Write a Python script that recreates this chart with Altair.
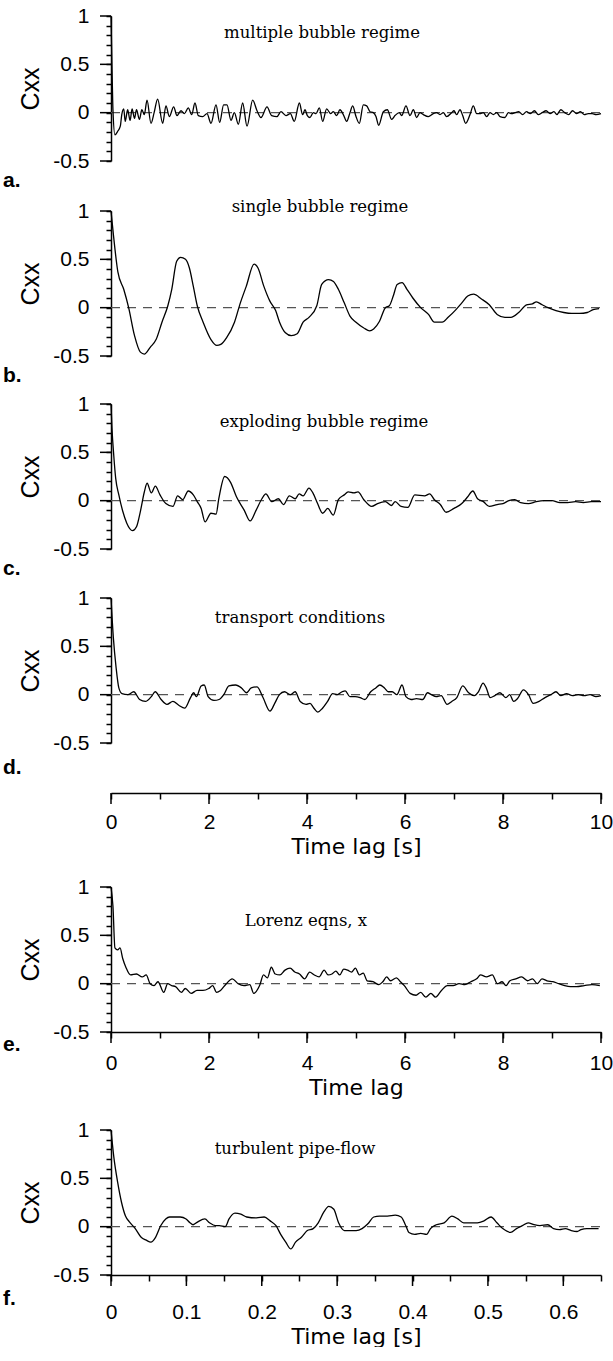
import altair as alt
import pandas as pd

# ---------------- data (time lag, Cxx) ----------------
A_POINTS = [(0, 1.0), (0.02, 0.48), (0.04, 0.03), (0.08, -0.23), (0.14, -0.19), (0.19, -0.14),
            (0.22, -0.02), (0.26, 0.04), (0.29, -0.09), (0.34, 0.03), (0.39, -0.08), (0.43, 0.04),
            (0.48, -0.06), (0.52, 0.03), (0.58, -0.07), (0.63, 0.03), (0.68, -0.02), (0.735, 0.13),
            (0.816, -0.11), (0.88, 0.0), (0.952, 0.14), (1.054, -0.11), (1.122, 0.07), (1.19, -0.04),
            (1.279, 0.06), (1.347, -0.03), (1.429, 0.02), (1.497, -0.01), (1.578, 0.05), (1.646, -0.02),
            (1.714, 0.1), (1.782, -0.03), (1.871, -0.04), (1.959, -0.01), (2.041, -0.11), (2.143, 0.08),
            (2.218, -0.1), (2.299, 0.08), (2.367, 0.08), (2.449, -0.08), (2.517, 0.0), (2.599, -0.12),
            (2.687, 0.1), (2.776, -0.14), (2.891, 0.13), (2.98, 0.02), (3.061, -0.05), (3.184, 0.06),
            (3.279, -0.03), (3.388, -0.04), (3.469, 0.01), (3.571, -0.03), (3.66, -0.01), (3.741, -0.09),
            (3.844, 0.1), (3.911, -0.02), (3.959, 0.03), (4.007, -0.03), (4.061, -0.05), (4.129, 0.0),
            (4.184, -0.01), (4.252, 0.05), (4.32, -0.09), (4.401, 0.04), (4.483, -0.01), (4.537, 0.01),
            (4.605, -0.03), (4.673, 0.03), (4.741, -0.02), (4.81, -0.09), (4.877, 0.0), (4.932, 0.07),
            (5.0, -0.04), (5.068, -0.11), (5.15, 0.08), (5.218, 0.07), (5.286, 0.01), (5.354, 0.0),
            (5.408, -0.04), (5.463, -0.13), (5.558, 0.01), (5.639, 0.03), (5.728, -0.07), (5.796, -0.03),
            (5.884, 0.0), (5.932, -0.03), (6.02, 0.07), (6.102, -0.03), (6.17, 0.03), (6.238, -0.05),
            (6.306, 0.0), (6.374, -0.02), (6.476, -0.04), (6.578, -0.01), (6.646, 0.0), (6.714, -0.02),
            (6.782, 0.0), (6.85, -0.04), (6.952, 0.0), (7.0, 0.02), (7.054, -0.02), (7.122, 0.03),
            (7.177, -0.03), (7.238, -0.11), (7.327, -0.02), (7.394, 0.07), (7.463, -0.01), (7.531, -0.01),
            (7.599, 0.0), (7.667, -0.04), (7.735, 0.0), (7.803, -0.02), (7.871, 0.0), (7.939, -0.04),
            (8.041, -0.05), (8.109, 0.0), (8.177, -0.01), (8.245, 0.0), (8.32, 0.01), (8.4, -0.02),
            (8.48, 0.01), (8.56, -0.01), (8.64, 0.02), (8.72, -0.02), (8.8, 0.0), (8.88, 0.02),
            (8.96, -0.01), (9.04, 0.01), (9.1, -0.02), (9.18, 0.03), (9.26, 0.0), (9.34, -0.02),
            (9.42, 0.02), (9.5, -0.01), (9.58, 0.01), (9.66, -0.02), (9.74, -0.01), (9.82, -0.01),
            (9.9, -0.02), (10.0, -0.01)]

B_POINTS = [(0, 1.0), (0.05, 0.75), (0.14, 0.37), (0.26, 0.19), (0.36, 0.0), (0.48, -0.29), (0.6, -0.46),
            (0.68, -0.48), (0.8, -0.41), (0.92, -0.33), (1.04, -0.15), (1.16, 0.02), (1.24, 0.19),
            (1.34, 0.48), (1.42, 0.52), (1.52, 0.5), (1.6, 0.41), (1.68, 0.22), (1.76, 0.02), (1.88, -0.15),
            (2.04, -0.33), (2.16, -0.39), (2.24, -0.38), (2.36, -0.31), (2.52, -0.15), (2.64, 0.05),
            (2.76, 0.22), (2.92, 0.45), (3.0, 0.41), (3.12, 0.22), (3.24, 0.07), (3.36, -0.03),
            (3.44, -0.15), (3.56, -0.26), (3.68, -0.29), (3.8, -0.27), (3.92, -0.15), (4.04, -0.1),
            (4.2, 0.02), (4.3, 0.24), (4.44, 0.29), (4.54, 0.27), (4.64, 0.19), (4.76, 0.05), (4.88, -0.09),
            (5.0, -0.15), (5.16, -0.21), (5.28, -0.24), (5.36, -0.22), (5.48, -0.14), (5.6, 0.0),
            (5.68, 0.02), (5.76, 0.12), (5.84, 0.24), (5.94, 0.26), (6.04, 0.19), (6.16, 0.1), (6.32, 0.0),
            (6.48, -0.07), (6.6, -0.15), (6.76, -0.15), (6.88, -0.1), (7.04, -0.02), (7.16, 0.05),
            (7.28, 0.12), (7.4, 0.14), (7.56, 0.09), (7.72, 0.03), (7.88, -0.07), (8.04, -0.1),
            (8.16, -0.1), (8.32, -0.05), (8.48, 0.03), (8.6, 0.04), (8.68, 0.06), (8.8, 0.03), (8.92, 0.0),
            (9.08, -0.03), (9.24, -0.05), (9.4, -0.06), (9.56, -0.06), (9.72, -0.05), (9.84, -0.02),
            (9.96, -0.01)]

C_POINTS = [(0, 1.0), (0.02, 0.75), (0.056, 0.47), (0.096, 0.23), (0.16, 0.06), (0.24, -0.11),
            (0.32, -0.23), (0.44, -0.31), (0.52, -0.27), (0.6, -0.11), (0.68, 0.09), (0.736, 0.18),
            (0.824, 0.08), (0.904, 0.15), (1.0, 0.06), (1.12, -0.03), (1.264, -0.06), (1.36, 0.05),
            (1.464, 0.01), (1.576, 0.1), (1.68, 0.06), (1.76, -0.01), (1.84, -0.08), (1.92, -0.22),
            (2.04, -0.13), (2.144, -0.14), (2.2, 0.02), (2.32, 0.25), (2.44, 0.19), (2.56, 0.04),
            (2.72, -0.1), (2.84, -0.21), (2.96, -0.1), (3.08, 0.02), (3.16, 0.07), (3.28, -0.01),
            (3.416, 0.02), (3.52, -0.04), (3.64, 0.05), (3.76, 0.02), (3.84, 0.07), (3.92, 0.05),
            (4.04, 0.13), (4.12, 0.08), (4.216, -0.03), (4.32, -0.13), (4.424, -0.08), (4.536, -0.15),
            (4.64, 0.01), (4.76, 0.06), (4.84, 0.09), (4.96, 0.08), (5.04, 0.09), (5.16, 0.01),
            (5.32, -0.06), (5.44, -0.03), (5.6, -0.01), (5.72, -0.05), (5.8, -0.01), (5.92, -0.06),
            (6.056, -0.07), (6.2, 0.06), (6.4, 0.05), (6.504, 0.07), (6.6, 0.01), (6.72, -0.04),
            (6.84, -0.12), (7.0, -0.08), (7.16, -0.03), (7.28, 0.04), (7.384, 0.1), (7.48, 0.02),
            (7.6, -0.01), (7.72, -0.06), (7.88, -0.04), (8.0, -0.03), (8.12, 0.0), (8.24, 0.01),
            (8.36, -0.02), (8.52, -0.03), (8.68, -0.01), (8.84, 0.0), (9.0, 0.0), (9.16, -0.02),
            (9.32, -0.02), (9.48, -0.01), (9.64, -0.02), (9.8, -0.01), (10.0, -0.01)]

D_POINTS = [(0, 1.0), (0.048, 0.59), (0.104, 0.28), (0.16, 0.07), (0.224, 0.01), (0.344, 0.0),
            (0.464, 0.03), (0.584, -0.05), (0.703, -0.07), (0.823, -0.02), (0.903, 0.03), (1.023, -0.05),
            (1.143, -0.1), (1.263, -0.07), (1.383, -0.11), (1.503, -0.14), (1.623, -0.03), (1.687, 0.02),
            (1.743, -0.02), (1.839, 0.09), (1.902, 0.1), (1.982, -0.02), (2.102, -0.06), (2.206, -0.05),
            (2.302, 0.0), (2.406, 0.09), (2.542, 0.1), (2.662, 0.07), (2.766, 0.02), (2.862, 0.07),
            (2.982, 0.08), (3.102, -0.03), (3.245, -0.17), (3.341, -0.09), (3.437, 0.0), (3.541, 0.03),
            (3.661, 0.0), (3.757, 0.03), (3.861, -0.07), (3.981, -0.1), (4.061, -0.09), (4.141, -0.14),
            (4.221, -0.18), (4.317, -0.14), (4.42, -0.07), (4.524, 0.01), (4.62, 0.0), (4.716, 0.03),
            (4.78, 0.04), (4.876, -0.02), (4.98, -0.02), (5.084, -0.03), (5.18, -0.05), (5.3, 0.03),
            (5.404, 0.07), (5.484, 0.1), (5.58, 0.07), (5.659, 0.03), (5.739, 0.03), (5.835, 0.0),
            (5.939, 0.1), (6.019, -0.02), (6.123, -0.05), (6.235, -0.04), (6.363, -0.05), (6.459, 0.02),
            (6.539, 0.0), (6.635, -0.02), (6.739, -0.01), (6.859, -0.1), (6.954, -0.07), (7.058, -0.03),
            (7.178, 0.09), (7.298, 0.02), (7.418, -0.01), (7.498, 0.03), (7.594, 0.12), (7.658, 0.07),
            (7.738, -0.03), (7.834, -0.01), (7.938, 0.02), (8.058, -0.03), (8.137, 0.0), (8.217, -0.07),
            (8.297, -0.04), (8.417, 0.05), (8.521, 0.0), (8.617, -0.09), (8.737, -0.07), (8.857, -0.03),
            (8.977, 0.0), (9.081, 0.03), (9.177, -0.01), (9.297, 0.01), (9.417, -0.01), (9.536, 0.0),
            (9.656, -0.01), (9.776, 0.0), (9.896, -0.02), (10.0, -0.01)]

E_POINTS = [(0, 1.0), (0.04, 0.8), (0.08, 0.37), (0.136, 0.35), (0.184, 0.37), (0.239, 0.26),
            (0.303, 0.17), (0.399, 0.09), (0.519, 0.1), (0.638, 0.07), (0.718, 0.09), (0.798, 0.0),
            (0.878, -0.02), (0.958, 0.02), (1.077, -0.09), (1.157, 0.0), (1.237, -0.02), (1.317, -0.03),
            (1.437, -0.09), (1.516, -0.05), (1.636, -0.1), (1.756, -0.07), (1.876, -0.07), (1.995, -0.05),
            (2.075, -0.02), (2.155, -0.09), (2.235, -0.07), (2.354, 0.0), (2.474, 0.05), (2.594, 0.0),
            (2.714, -0.02), (2.833, -0.01), (2.913, -0.1), (3.033, -0.02), (3.113, 0.09), (3.192, 0.06),
            (3.272, 0.17), (3.352, 0.1), (3.448, 0.09), (3.551, 0.14), (3.655, 0.16), (3.751, 0.12),
            (3.847, 0.1), (3.951, 0.05), (4.054, 0.12), (4.15, 0.09), (4.246, 0.07), (4.35, 0.14),
            (4.429, 0.09), (4.509, 0.1), (4.589, 0.13), (4.669, 0.09), (4.749, 0.15), (4.828, 0.14),
            (4.908, 0.12), (4.988, 0.16), (5.068, 0.09), (5.148, 0.11), (5.227, 0.03), (5.347, 0.02),
            (5.467, -0.01), (5.547, 0.02), (5.626, 0.07), (5.706, 0.03), (5.826, 0.06), (5.906, 0.02),
            (5.986, -0.02), (6.105, -0.1), (6.225, -0.12), (6.321, -0.09), (6.425, -0.14), (6.528, -0.1),
            (6.624, -0.14), (6.744, -0.07), (6.864, -0.02), (6.983, -0.02), (7.103, 0.0), (7.223, -0.01),
            (7.343, 0.02), (7.462, 0.05), (7.542, 0.09), (7.662, 0.07), (7.782, 0.09), (7.885, 0.0),
            (7.981, 0.02), (8.061, -0.02), (8.141, 0.03), (8.26, 0.05), (8.38, 0.07), (8.5, 0.03),
            (8.603, 0.05), (8.699, 0.0), (8.795, 0.05), (8.898, 0.03), (9.018, 0.02), (9.138, 0.0),
            (9.258, -0.02), (9.377, -0.03), (9.497, -0.03), (9.657, -0.02), (9.816, -0.01), (9.976, -0.02)]

F_POINTS = [(0, 1.0), (0.0036, 0.73), (0.0088, 0.46), (0.014, 0.25), (0.0192, 0.11), (0.0244, 0.05),
            (0.0322, -0.02), (0.04, -0.11), (0.0467, -0.14), (0.0529, -0.16), (0.0591, -0.11),
            (0.0659, 0.01), (0.0726, 0.08), (0.0778, 0.1), (0.084, 0.1), (0.0918, 0.1), (0.0996, 0.08),
            (0.1048, 0.04), (0.1089, 0.02), (0.1151, 0.05), (0.1245, 0.08), (0.1307, 0.04), (0.1385, 0.01),
            (0.1437, 0.01), (0.1515, 0.0), (0.1566, 0.08), (0.1644, 0.14), (0.1722, 0.13), (0.18, 0.1),
            (0.1929, 0.09), (0.2033, 0.1), (0.2111, 0.06), (0.2189, 0.01), (0.2251, -0.08), (0.2318, -0.16),
            (0.2386, -0.23), (0.2448, -0.16), (0.2526, -0.11), (0.2604, -0.04), (0.2682, -0.02),
            (0.2749, 0.04), (0.2822, 0.15), (0.2889, 0.21), (0.2956, 0.18), (0.3019, 0.04), (0.3096, -0.04),
            (0.3174, -0.04), (0.3252, -0.04), (0.333, -0.02), (0.3408, 0.03), (0.3485, 0.1), (0.3563, 0.11),
            (0.3667, 0.11), (0.3771, 0.12), (0.3849, 0.1), (0.3911, 0.01), (0.3952, -0.06), (0.403, -0.08),
            (0.4108, -0.07), (0.4186, -0.08), (0.4238, -0.02), (0.4315, 0.02), (0.4419, 0.04),
            (0.4523, 0.11), (0.4601, 0.08), (0.4678, 0.04), (0.4782, 0.04), (0.486, 0.04), (0.4948, 0.06),
            (0.5041, 0.1), (0.5119, 0.04), (0.5197, -0.02), (0.5301, -0.06), (0.5379, -0.02),
            (0.5456, 0.01), (0.5534, 0.04), (0.5612, 0.02), (0.569, 0.01), (0.5794, 0.02), (0.5871, -0.02),
            (0.5949, -0.03), (0.6027, -0.02), (0.6105, -0.04), (0.6183, -0.05), (0.6235, -0.03),
            (0.6312, -0.02), (0.639, -0.02), (0.6468, -0.02)]

TITLES = ["multiple bubble regime", "single bubble regime", "exploding bubble regime",
          "transport conditions", "Lorenz eqns, x", "turbulent pipe-flow"]
TAGS = ["a.", "b.", "c.", "d.", "e.", "f."]
Y_TICKS = [round(-0.5 + 0.1 * i, 1) for i in range(16)]
Y_MAJORS = [-0.5, 0, 0.5, 1]
X_TICKS_S = list(range(11))
X_MAJORS_S = [0, 2, 4, 6, 8, 10]
X_TICKS_F = [round(0.05 * i, 2) for i in range(14)]
X_MAJORS_F = [0, 0.1, 0.2, 0.3, 0.4, 0.5, 0.6]
Y_TITLE = "Cxx"
X_TITLES = ["Time lag [s]", "Time lag", "Time lag [s]"]

SANS = "Liberation Sans"
TITLE_SANS = "DejaVu Sans"
SERIF = "DejaVu Serif"
W = 490
H = 145


def y_axis():
    return alt.Axis(values=Y_TICKS, title=Y_TITLE, grid=False,
                    labelExpr="indexof([-0.5, 0, 0.5, 1], datum.value) >= 0 ? '' + datum.value : ''",
                    tickSize=5,
                    labelFont=SANS, labelFontSize=21, labelColor="black", labelPadding=17,
                    labelOverlap=False, labelFlush=False,
                    titleFont=SANS, titleFontSize=25, titleFontWeight="normal", titleColor="black",
                    titlePadding=9,
                    domainColor="black", domainWidth=1.5, tickColor="black", tickWidth=1.5)


def x_axis(values, majors, title, offset, pad):
    arr = "[" + ", ".join(str(m) for m in majors) + "]"
    return alt.Axis(values=values, title=title, grid=False, offset=offset,
                    labelExpr=f"indexof({arr}, datum.value) >= 0 ? '' + datum.value : ''",
                    tickSize=6,
                    labelFont=SANS, labelFontSize=21, labelColor="black", labelPadding=pad,
                    labelOverlap=False, labelFlush=False,
                    titleFont=TITLE_SANS, titleFontSize=22, titleFontWeight="normal", titleColor="black",
                    titlePadding=4,
                    domainColor="black", domainWidth=1.5, tickColor="black", tickWidth=1.5)


def panel(points, xmax, title, tag, ann_x, ann_y, tag_y, xaxis=None, xmajors=None, offset=0,
          anchor=False):
    df = pd.DataFrame(points, columns=["t", "c"])
    xs = alt.Scale(domain=[0, xmax], nice=False, zero=False)
    ys = alt.Scale(domain=[-0.5, 1], nice=False, zero=False)
    X = lambda f: alt.X(f, scale=xs, axis=xaxis)
    Y = lambda f: alt.Y(f, scale=ys, axis=y_axis())
    line = alt.Chart(df).mark_line(color="black", strokeWidth=1.3, interpolate="monotone").encode(
        x=X("t:Q"), y=Y("c:Q"))
    zdf = pd.DataFrame({"t": [0], "t2": [xmax], "c": [0]})
    zero = alt.Chart(zdf).mark_rule(color="#555555", strokeDash=[9, 7], strokeWidth=1.2).encode(
        x=X("t:Q"), x2="t2:Q", y=Y("c:Q"))
    ymaj = alt.Chart(pd.DataFrame({"c": Y_MAJORS})).mark_rule(color="black", strokeWidth=1.5).encode(
        y=Y("c:Q"), x=alt.value(-11), x2=alt.value(0))
    layers = [zero, line, ymaj]
    if xmajors is not None:
        xmaj = alt.Chart(pd.DataFrame({"t": xmajors})).mark_rule(color="black", strokeWidth=1.5).encode(
            x=X("t:Q"), y=alt.value(H + offset), y2=alt.value(H + offset + 11))
        layers.append(xmaj)
    ann = alt.Chart(pd.DataFrame({"s": [title]})).mark_text(
        font=SERIF, fontSize=16.5, align="center", baseline="middle", color="black"
    ).encode(text="s:N", x=alt.value(ann_x), y=alt.value(ann_y))
    tg = alt.Chart(pd.DataFrame({"s": [tag]})).mark_text(
        font=SANS, fontSize=21, fontWeight="bold", align="left", baseline="middle", color="black"
    ).encode(text="s:N", x=alt.value(-108), y=alt.value(tag_y))
    layers += [ann, tg]
    if anchor:
        a = alt.Chart(pd.DataFrame({"s": [0]})).mark_rule(opacity=0).encode(
            x=alt.value(-111), y=alt.value(-16), y2=alt.value(0))
        layers.append(a)
    return alt.layer(*layers).properties(width=W, height=H)


def spacer(h):
    return alt.Chart(pd.DataFrame({"v": [0]})).mark_point(opacity=0).encode(
        x=alt.X("v:Q", axis=None), y=alt.Y("v:Q", axis=None)).properties(width=W, height=h)


pa = panel(A_POINTS, 10, TITLES[0], TAGS[0], 211, 17, 165, anchor=True)
pb = panel(B_POINTS, 10, TITLES[1], TAGS[1], 209, -4, 165)
pc = panel(C_POINTS, 10, TITLES[2], TAGS[2], 213, 18, 165)
pd_ = panel(D_POINTS, 10, TITLES[3], TAGS[3], 189, 20, 170,
            xaxis=x_axis(X_TICKS_S, X_MAJORS_S, X_TITLES[0], 50, 12), xmajors=X_MAJORS_S, offset=50)
pe = panel(E_POINTS, 10, TITLES[4], TAGS[4], 195, 34, 158,
           xaxis=x_axis(X_TICKS_S, X_MAJORS_S, X_TITLES[1], 0, 14), xmajors=X_MAJORS_S)
pf = panel(F_POINTS, 0.65, TITLES[5], TAGS[5], 184, 19, 169,
           xaxis=x_axis(X_TICKS_F, X_MAJORS_F, X_TITLES[2], 0, 20), xmajors=X_MAJORS_F)

chart = alt.vconcat(
    pa, spacer(50), pb, spacer(48), pc, spacer(49), pd_, spacer(144), pe, spacer(98), pf,
    spacing=0, bounds="flush",
).properties(padding=0, background="white").configure_view(stroke=None)

chart.save("out.html", embed_options={"renderer": "svg", "actions": False})
